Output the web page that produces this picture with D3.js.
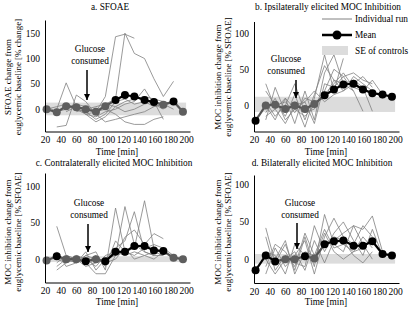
<!DOCTYPE html>
<html>
<head>
<meta charset="utf-8">
<script src="https://cdn.jsdelivr.net/npm/d3@7"></script>
<style>
body { margin: 0; background: #fff; }
svg text { font-family: "Liberation Serif", "Times New Roman", Times, serif; fill: #000; }
</style>
</head>
<body>
<svg id="fig" width="409" height="311"></svg>
<script>
// sample times (min)
var times = [22, 35, 47, 60, 72, 85, 97, 110, 122, 134, 147, 159, 171, 184, 196];
var xTicks = [20, 40, 60, 80, 100, 120, 140, 160, 180, 200];

// a. SFOAE
var meanA = [0, -6, 6, 4, 0, -5, 6, 18, 28, 25, 18, 14, 9, 15, -5];
var sigA  = [0, 0, 0, 0, 0, 0, 0, 1, 1, 1, 1, 1, 0, 1, 0];
var seA = [-12, 13];
var runsA = [
  [null, null, 5, 0, -10, -5, 25, 143, 148, 140, null, null, null, null, null],
  [null, null, null, -5, 0, 5, 10, 20, 150, 110, 100, 60, 25, 55, null],
  [null, 0, 52, 5, -10, -15, -5, 0, 10, 15, 40, 10, 0, null, null],
  [null, -35, -32, 28, 15, -10, -25, -20, -15, -10, -5, 5, 10, null, null],
  [5, -5, 0, 10, 5, -5, 0, -10, -25, -30, -30, -20, -15, null, null],
  [0, 5, 10, 0, -5, -20, -10, 15, 20, 10, 15, 5, 10, 0, null],
  [null, null, -5, 5, 0, -5, 10, 5, -5, 0, 10, 15, -20, null, null],
  [null, null, null, null, -10, -25, -15, 5, 15, 20, 25, 20, 15, 10, null]
];

// b. ipsilateral
var meanB = [-21, 0, 1, -5, 0, -5, 2, 14, 22, 29, 30, 22, 17, 15, 12];
var sigB  = [1, 0, 0, 0, 0, 0, 0, 1, 1, 1, 1, 1, 1, 1, 1];
var seB = [-9, 12];
var runsB = [
  [null, 30, -5, 10, -25, 20, -20, 45, 70, 30, 20, null, null, null, null],
  [null, -20, 25, -10, 5, -30, 10, 70, 20, 65, null, null, null, null, null],
  [null, 5, -15, 0, 30, -10, -5, 20, 50, 40, 45, 35, 30, null, null],
  [null, -10, 10, -20, -5, 5, -25, 30, 25, 40, 20, -8, null, null, null],
  [null, 20, 0, 5, -10, 10, 5, 10, 35, 30, 35, 25, -8, null, null],
  [null, -5, 5, -15, 15, -20, 15, 55, 35, 20, 30, 40, 25, null, null],
  [null, 0, -20, 10, -5, -15, 0, 15, 30, 45, 25, 20, 35, 15, null],
  [null, -15, -5, -25, 0, 5, 20, 5, 15, 20, 40, 30, 20, 10, null]
];

// c. contralateral
var meanC = [-2, 4, 0, 0, -3, 0, -3, 10, 10, 18, 18, 12, 11, 2, 0];
var sigC  = [0, 1, 0, 0, 1, 0, 1, 1, 1, 1, 1, 1, 1, 0, 0];
var seC = [-4, 4];
var runsC = [
  [null, 45, 5, 0, -5, -20, -20, 5, 72, 20, 10, 5, null, null, null],
  [null, -10, 0, -5, 5, 10, -15, 70, 10, 15, 80, 15, 10, null, null],
  [null, -15, -5, 0, -10, -5, 0, 15, 25, 65, 10, 5, 5, null, null],
  [null, 5, 0, -5, 10, -15, 0, 5, 30, 40, 20, 35, 28, null, null],
  [null, -5, 5, 0, -5, 5, -10, 25, 10, 5, 15, 20, 15, 5, null],
  [null, 0, -5, 5, 0, -10, 5, 10, 5, 10, 5, 0, 10, 0, null],
  [null, 10, -10, -5, 5, 0, -5, 0, 15, 0, 5, 10, 5, null, null]
];

// d. bilateral
var meanD = [-15, 5, -3, 0, 0, 4, 1, 20, 24, 25, 18, 18, 24, 7, 5];
var sigD  = [1, 1, 1, 0, 0, 1, 0, 1, 1, 1, 1, 1, 1, 1, 1];
var seD = [-6, 7];
var runsD = [
  [null, 42, -5, 20, -15, 30, -10, 60, 20, 10, 45, 40, 58, 10, null],
  [null, -20, 15, -10, 5, 25, -20, 30, 55, 30, 20, 45, 30, null, null],
  [null, 30, -15, 5, -5, -10, 45, 10, 35, 50, 25, 5, 40, 5, null],
  [null, 10, 5, -20, 20, 5, 0, 35, 10, 0, 10, 30, 15, null, null],
  [null, -10, 20, 10, -10, 35, 5, 20, 30, 25, 5, -5, 10, null, null],
  [null, 0, -20, 0, 10, -15, 25, -5, 25, 35, 45, 20, 0, null, null],
  [null, 5, 0, 25, -20, 10, 5, 40, 15, 20, 10, 15, 25, 5, null]
];

var svg = d3.select("#fig");
var serif = "'Liberation Serif', 'Times New Roman', Times, serif";

var panels = [
  {title: "a. SFOAE", runs: runsA, mean: meanA, sig: sigA, se: seA,
   yLab: ["SFOAE change from", "euglycemic baseline [% change]"],
   yTicks: [0, 50, 100, 150], left: 45, top: 20, bottom: 131.5, ydom: [-44, 176],
   titleX: 110, titleY: 10, timeY: 155, labX: 11, labY: 77,
   note: {x: 90, y: 52, ax: 87, ay1: 66, ay2: 100}},
  {title: "b. Ipsilaterally elicited MOC Inhibition", runs: runsB, mean: meanB, sig: sigB, se: seB,
   yLab: ["MOC inhibition change from", "euglycemic baseline [% SFOAE]"],
   yTicks: [0, 50, 100], left: 254, top: 21.5, bottom: 131.5, ydom: [-36, 116],
   titleX: 328, titleY: 10, timeY: 155, labX: 221, labY: 77,
   note: {x: 286, y: 62, ax: 296, ay1: 76, ay2: 98}},
  {title: "c. Contralaterally elicited MOC Inhibition", runs: runsC, mean: meanC, sig: sigC, se: seC,
   yLab: ["MOC inhibition change from", "euglycemic baseline [% SFOAE]"],
   yTicks: [0, 50, 100], left: 45, top: 173, bottom: 282.5, ydom: [-32, 118],
   titleX: 114, titleY: 166, timeY: 305, labX: 11, labY: 232,
   note: {x: 89, y: 206, ax: 88, ay1: 220, ay2: 252}},
  {title: "d. Bilaterally elicited MOC Inhibition", runs: runsD, mean: meanD, sig: sigD, se: seD,
   yLab: ["MOC inhibition change from", "euglycemic baseline [% SFOAE]"],
   yTicks: [0, 50, 100], left: 254, top: 175, bottom: 283, ydom: [-32, 113],
   titleX: 322, titleY: 166, timeY: 305, labX: 221, labY: 232,
   note: {x: 300, y: 206, ax: 297, ay1: 219, ay2: 249}}
];

svg.append("defs").append("marker")
    .attr("id", "head")
    .attr("viewBox", "0 0 10 10")
    .attr("refX", 10).attr("refY", 5)
    .attr("markerWidth", 4).attr("markerHeight", 5.5)
    .attr("markerUnits", "strokeWidth")
    .attr("orient", "auto")
  .append("path")
    .attr("d", "M0,0L10,5L0,10z")
    .attr("fill", "#000");

panels.forEach(function(p) {
    var x = d3.scaleLinear().domain([20, 205]).range([p.left, p.left + 145]);
    var y = d3.scaleLinear().domain(p.ydom).range([p.bottom, p.top]);
    var g = svg.append("g");

    // SE of controls band
    g.append("rect")
        .attr("x", x(20))
        .attr("width", x(200) - x(20))
        .attr("y", y(p.se[1]))
        .attr("height", y(p.se[0]) - y(p.se[1]))
        .attr("fill", "#dcdcdc");

    var line = d3.line()
        .defined(function(d) { return d[1] != null; })
        .x(function(d) { return x(d[0]); })
        .y(function(d) { return y(d[1]); });

    g.selectAll(".run")
        .data(p.runs)
        .enter()
        .append("path")
        .attr("d", function(r) {
            return line(r.map(function(v, i) { return [times[i], v]; }));
        })
        .attr("fill", "none")
        .attr("stroke", "#808080")
        .attr("stroke-width", 0.8);

    // mean line, segment colour follows significance
    var segs = [];
    for (var i = 0; i < p.mean.length - 1; i++) {
        segs.push([i, i + 1]);
    }
    g.selectAll(".seg")
        .data(segs)
        .enter()
        .append("line")
        .attr("x1", function(s) { return x(times[s[0]]); })
        .attr("y1", function(s) { return y(p.mean[s[0]]); })
        .attr("x2", function(s) { return x(times[s[1]]); })
        .attr("y2", function(s) { return y(p.mean[s[1]]); })
        .attr("stroke", function(s) { return p.sig[s[0]] && p.sig[s[1]] ? "#000" : "#555"; })
        .attr("stroke-width", 2.2);

    g.selectAll(".pt")
        .data(p.mean)
        .enter()
        .append("circle")
        .attr("cx", function(d, i) { return x(times[i]); })
        .attr("cy", function(d) { return y(d); })
        .attr("r", 4)
        .attr("fill", function(d, i) { return p.sig[i] ? "#000" : "#5e5e5e"; });

    // axes
    var xa = g.append("g")
        .attr("transform", "translate(0," + p.bottom + ")")
        .call(d3.axisBottom(x).tickValues(xTicks).tickSize(0).tickPadding(5));
    var ya = g.append("g")
        .attr("transform", "translate(" + p.left + ",0)")
        .call(d3.axisLeft(y).tickValues(p.yTicks).tickSize(0).tickPadding(5));
    [xa, ya].forEach(function(a) {
        a.attr("font-family", serif).attr("font-size", 9.5);
        a.select(".domain").attr("stroke", "#000");
    });

    g.append("text")
        .attr("x", p.titleX).attr("y", p.titleY)
        .attr("text-anchor", "middle")
        .style("font-size", "9.3px")
        .text(p.title);

    g.append("text")
        .attr("x", p.left + 72).attr("y", p.timeY)
        .attr("text-anchor", "middle")
        .style("font-size", "9.3px")
        .text("Time [min]");

    p.yLab.forEach(function(t, k) {
        g.append("text")
            .attr("transform", "translate(" + (p.labX + k * 10) + "," + p.labY + ")rotate(-90)")
            .attr("text-anchor", "middle")
            .style("font-size", "9px")
            .text(t);
    });

    // glucose annotation
    g.append("text")
        .attr("x", p.note.x).attr("y", p.note.y)
        .attr("text-anchor", "middle")
        .style("font-size", "9.3px")
        .text("Glucose");
    g.append("text")
        .attr("x", p.note.x).attr("y", p.note.y + 12)
        .attr("text-anchor", "middle")
        .style("font-size", "9.3px")
        .text("consumed");
    g.append("line")
        .attr("x1", p.note.ax).attr("y1", p.note.ay1 + 4)
        .attr("x2", p.note.ax).attr("y2", p.note.ay2)
        .attr("stroke", "#000")
        .attr("stroke-width", 1.5)
        .attr("marker-end", "url(#head)");
});

// legend in panel b
var leg = svg.append("g");
leg.append("line")
    .attr("x1", 322).attr("x2", 352).attr("y1", 19).attr("y2", 19)
    .attr("stroke", "#808080").attr("stroke-width", 1);
leg.append("text").attr("x", 355).attr("y", 22).style("font-size", "9.3px").text("Individual run");
leg.append("line")
    .attr("x1", 322).attr("x2", 352).attr("y1", 35).attr("y2", 35)
    .attr("stroke", "#000").attr("stroke-width", 2.5);
leg.append("circle").attr("cx", 337).attr("cy", 35).attr("r", 4.5).attr("fill", "#000");
leg.append("text").attr("x", 355).attr("y", 38).style("font-size", "9.3px").text("Mean");
leg.append("rect")
    .attr("x", 322).attr("y", 46).attr("width", 26).attr("height", 9)
    .attr("fill", "#dcdcdc");
leg.append("text").attr("x", 355).attr("y", 54).style("font-size", "9.3px").text("SE of controls");
</script>
</body>
</html>
